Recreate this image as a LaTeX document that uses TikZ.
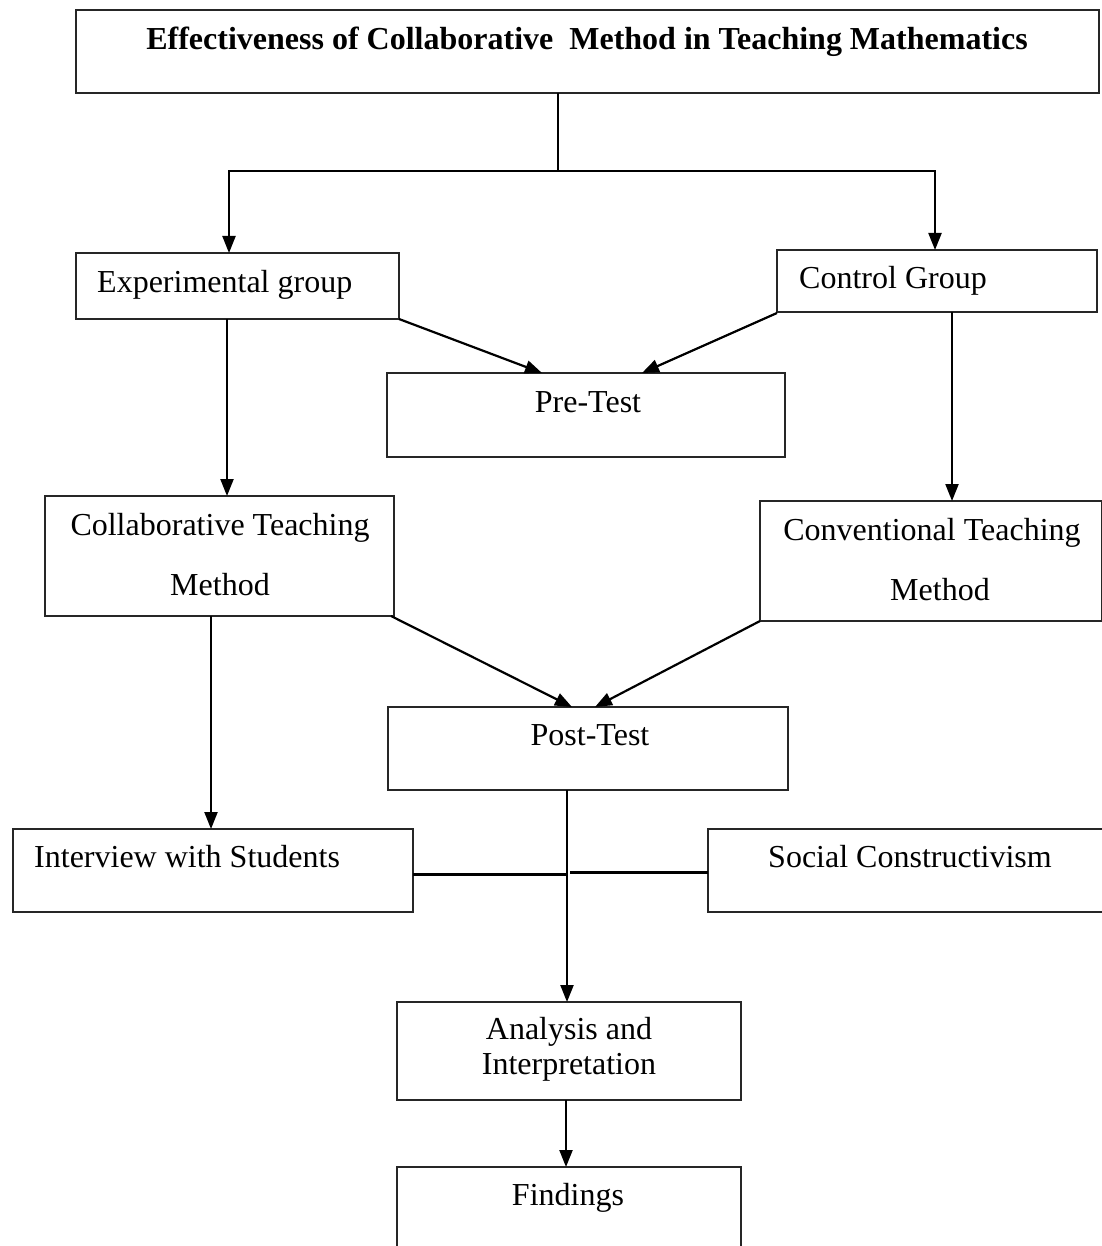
\documentclass[tikz,border=0pt]{standalone}
\usepackage{fontspec}
\setmainfont{Liberation Serif}
\usetikzlibrary{arrows.meta}
\begin{document}
\begin{tikzpicture}[x=1pt,y=-1pt,
  box/.style={draw=black!85, line width=1.5pt, inner sep=0pt, outer sep=0pt, anchor=north west},
  txt/.style={inner sep=0pt, font=\fontsize{32}{36}\selectfont},
  txtb/.style={inner sep=0pt, font=\fontsize{32}{60}\selectfont, align=center},
  txts/.style={inner sep=0pt, font=\fontsize{32}{35}\selectfont, align=center},
  conn/.style={line width=2.2pt, draw=black},
  arr/.style={conn, -{Triangle[length=17pt,width=13pt]}}]
\useasboundingbox (0,0) rectangle (1101,1246);
\fill[white] (0,0) rectangle (1101,1246);
% boxes
\node[box, minimum width=1023pt, minimum height=83pt] (title) at (76,10) {};
\node[box, minimum width=323pt, minimum height=66pt] (exp) at (76,253) {};
\node[box, minimum width=320pt, minimum height=62pt] (ctrl) at (777,250) {};
\node[box, minimum width=398pt, minimum height=84pt] (pre) at (387,373) {};
\node[box, minimum width=349pt, minimum height=120pt] (col) at (45,496) {};
\node[box, minimum width=342pt, minimum height=120pt] (conv) at (760,501) {};
\node[box, minimum width=400pt, minimum height=83pt] (post) at (388,707) {};
\node[box, minimum width=400pt, minimum height=83pt] (int) at (13,829) {};
\node[box, minimum width=395pt, minimum height=83pt] (soc) at (708,829) {};
\node[box, minimum width=344pt, minimum height=98pt] (ana) at (397,1002) {};
\node[box, minimum width=344pt, minimum height=110pt] (fin) at (397,1167) {};
% texts
\node[txt, anchor=base, font=\fontsize{32}{36}\selectfont\bfseries] (titleT) at (587,50) {Effectiveness of Collaborative\ \ Method in Teaching Mathematics};
\node[txt, anchor=base west] (expT) at (97,292) {Experimental group};
\node[txt, anchor=base west] (ctrlT) at (799,288) {Control Group};
\node[txt, anchor=base] (preT) at (588,412) {Pre-Test};
\node[txtb, anchor=base] (colT) at (220,595) {Collaborative Teaching\\Method};
\node[txtb, anchor=base] (convT) at (932,600) {Conventional Teaching\\\ \ Method};
\node[txt, anchor=base] (postT) at (590,745) {Post-Test};
\node[txt, anchor=base west] (intT) at (34,867) {Interview with Students};
\node[txt, anchor=base west] (socT) at (768,867) {Social Constructivism};
\node[txts, anchor=base] (anaT) at (569,1074) {Analysis and\\Interpretation};
\node[txt, anchor=base] (finT) at (568,1205) {Findings};
% connectors
\coordinate (j) at (558,171);
\draw[conn] ([xshift=482pt]title.south west) -- (j);
\draw[arr] (j) -| ([xshift=153pt]exp.north west);
\draw[arr] (j) -| ([xshift=158pt]ctrl.north west);
\draw[arr] (exp.south east) -- ([xshift=155pt]pre.north west);
\draw[arr] ([yshift=-1pt]ctrl.south west) -- ([xshift=255pt]pre.north west);
\draw[arr] ([xshift=151pt]exp.south west) -- ([xshift=182pt]col.north west);
\draw[arr] ([xshift=175pt]ctrl.south west) -- ([xshift=192pt]conv.north west);
\draw[arr] ([xshift=-3pt]col.south east) -- ([xshift=184pt]post.north west);
\draw[arr] (conv.south west) -- ([xshift=207pt]post.north west);
\draw[arr] ([xshift=166pt]col.south west) -- ([xshift=198pt]int.north west);
\draw[arr] ([xshift=179pt]post.south west) -- ([xshift=170pt]ana.north west);
\draw[arr] ([xshift=169pt]ana.south west) -- ([xshift=169pt]fin.north west);
\draw[line width=3pt] ([yshift=-45pt]int.north east) -- ++(154,0);
\draw[line width=3pt] ([yshift=-43pt]soc.north west) -- ++(-138,0);
\end{tikzpicture}
\end{document}
